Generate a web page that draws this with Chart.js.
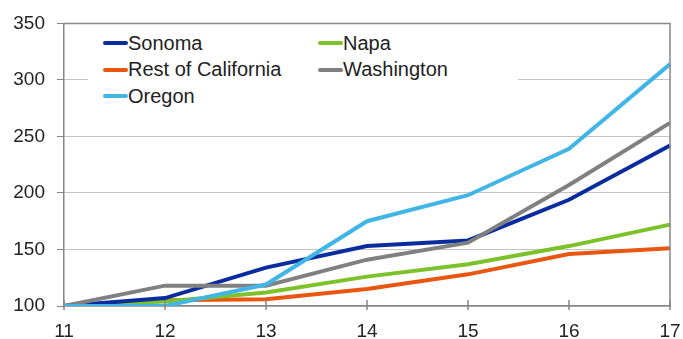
<!DOCTYPE html>
<html>
<head>
<meta charset="utf-8">
<script src="https://cdn.jsdelivr.net/npm/chart.js@4.4.1/dist/chart.umd.min.js"></script>
<style>
  body { margin: 0; background: #fff; }
  #wrap { position: relative; width: 683px; height: 339px; }
  #legend {
    position: absolute; left: 88px; top: 30px; width: 430px; height: 84px;
    background: #fff; font-family: "Liberation Sans", Arial, sans-serif;
    font-size: 20px; color: #222;
    display: grid; grid-template-columns: 215px 215px; grid-auto-rows: 26.5px;
    padding-left: 15px; box-sizing: border-box; pointer-events: none;
  }
  #legend .item { display: flex; align-items: center; white-space: nowrap; }
  #legend .swatch { width: 25px; height: 4px; border-radius: 2px; margin-right: 0; }
</style>
</head>
<body>
<div id="wrap">
  <canvas id="chart" width="683" height="339"></canvas>
  <div id="legend"></div>
</div>
<script>
const years = ['11', '12', '13', '14', '15', '16', '17'];
const sonoma = [100, 107, 134, 153, 158, 194, 242];
const napa = [100, 104, 112, 126, 137, 153, 172];
const restOfCalifornia = [100, 105, 106, 115, 128, 146, 151];
const washington = [100, 118, 118, 141, 156, 207, 262];
const oregon = [100, 100, 119, 175, 198, 239, 314];
const yTicks = [100, 150, 200, 250, 300, 350];

// legend order is row by row, like the original
const series = [
  { label: 'Sonoma', data: sonoma, color: '#0b2c9e', order: 2 },
  { label: 'Napa', data: napa, color: '#7dc12b', order: 3 },
  { label: 'Rest of California', data: restOfCalifornia, color: '#e8560f', order: 4 },
  { label: 'Washington', data: washington, color: '#808080', order: 1 },
  { label: 'Oregon', data: oregon, color: '#41b6e6', order: 0 }
];

// html legend inside the plot
const legendEl = document.getElementById('legend');
series.forEach(s => {
  const item = document.createElement('div');
  item.className = 'item';
  item.innerHTML = `<span class="swatch" style="background:${s.color}"></span><span>${s.label}</span>`;
  legendEl.appendChild(item);
});

// top/right frame and the small x tick marks
const framePlugin = {
  id: 'frame',
  afterDraw(chart) {
    const { ctx, chartArea: a, scales } = chart;
    ctx.save();
    ctx.strokeStyle = '#868686';
    ctx.lineWidth = 1.5;
    ctx.beginPath();
    ctx.moveTo(a.left, a.top);
    ctx.lineTo(a.right, a.top);
    ctx.lineTo(a.right, a.bottom);
    ctx.stroke();
    ctx.beginPath();
    years.forEach((y, i) => {
      const x = scales.x.getPixelForValue(i);
      ctx.moveTo(x, a.bottom - 6);
      ctx.lineTo(x, a.bottom + 4);
    });
    ctx.stroke();
    ctx.restore();
  }
};

const font = { family: '"Liberation Sans", Arial, sans-serif', size: 19 };

new Chart(document.getElementById('chart').getContext('2d'), {
  type: 'line',
  data: {
    labels: years,
    datasets: series.map(s => ({
      label: s.label,
      data: s.data,
      borderColor: s.color,
      backgroundColor: s.color,
      borderWidth: 4,
      pointRadius: 0,
      tension: 0,
      order: s.order
    }))
  },
  options: {
    responsive: false,
    animation: false,
    devicePixelRatio: 1,
    layout: { padding: { top: 19, right: 13, left: 0, bottom: 0 } },
    plugins: {
      legend: { display: false },
      tooltip: { enabled: false }
    },
    scales: {
      x: {
        offset: false,
        grid: { display: false },
        border: { display: true, color: '#868686', width: 1.5 },
        ticks: { font, color: '#222', padding: 6, maxRotation: 0 },
        afterFit: s => { s.height = 33; s.paddingRight = 0; }
      },
      y: {
        min: 100,
        max: 350,
        afterBuildTicks: s => { s.ticks = yTicks.map(v => ({ value: v })); },
        grid: { color: '#c4c4c4', lineWidth: 1, tickLength: 7, tickColor: '#868686' },
        border: { display: true, color: '#868686', width: 1.5 },
        ticks: { font, color: '#222', padding: 12 },
        afterFit: s => { s.width = 64; }
      }
    }
  },
  plugins: [framePlugin]
});
</script>
</body>
</html>
